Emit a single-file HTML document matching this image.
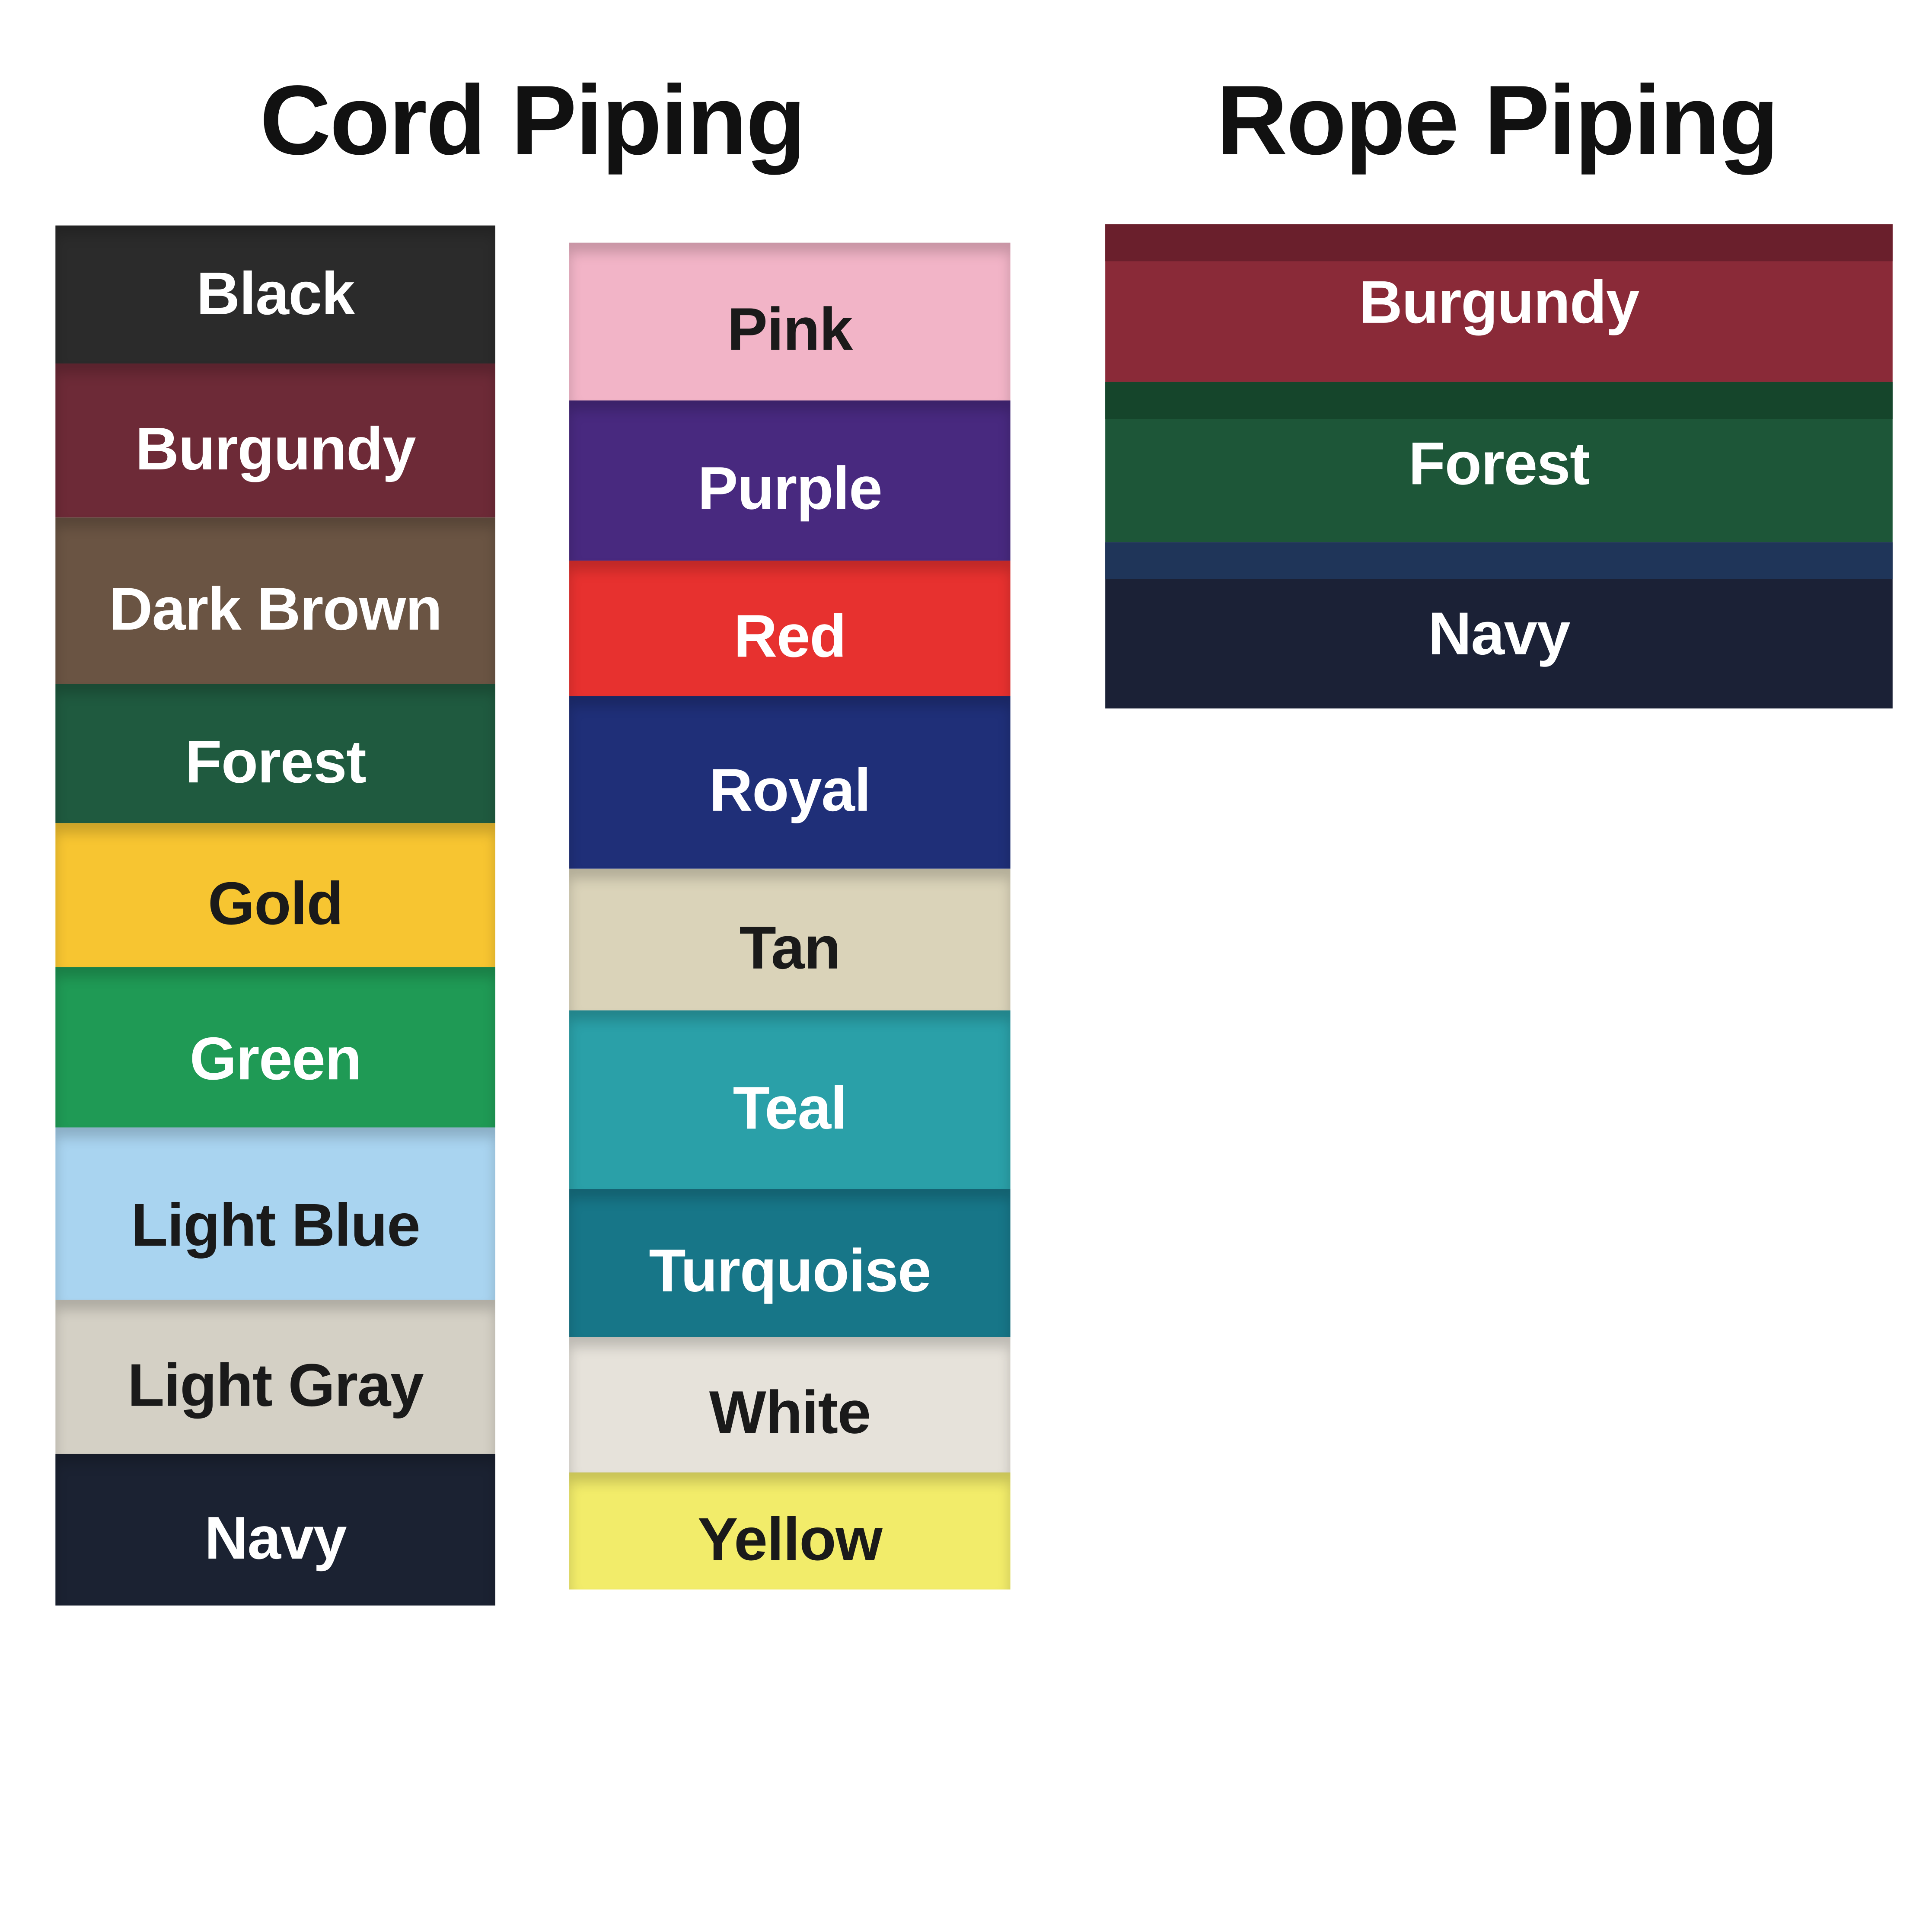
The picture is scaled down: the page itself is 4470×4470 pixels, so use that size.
<!DOCTYPE html>
<html><head><meta charset="utf-8"><style>
html,body{margin:0;padding:0;background:#fff;width:4470px;height:4470px;overflow:hidden}
#w{position:absolute;left:0;top:0;width:1568px;height:1568px;transform:scale(2.8508);transform-origin:0 0;font-family:"Liberation Sans",sans-serif;font-weight:bold}
.t{position:absolute;font-size:80px;color:#111;text-align:center;letter-spacing:-1px}
.b{position:absolute;box-sizing:border-box;padding-top:14px;display:flex;align-items:center;justify-content:center;font-size:49px;color:#fff;box-shadow:inset 0 8px 10px rgba(0,0,0,0.18);letter-spacing:-0.5px}
.d{color:#1a1a1a}
</style></head><body><div id="w">
<div class="t" style="left:132px;top:52px;width:600px">Cord Piping</div>
<div class="t" style="left:915px;top:52px;width:600px">Rope Piping</div>

<div class="b" style="left:45px;top:183px;width:357px;height:112px;background:#2b2b2b;padding-top:0">Black</div>
<div class="b" style="left:45px;top:295px;width:357px;height:125px;background:#6d2a37">Burgundy</div>
<div class="b" style="left:45px;top:420px;width:357px;height:135px;background:#6a5443">Dark Brown</div>
<div class="b" style="left:45px;top:555px;width:357px;height:113px;background:#1f5a3f">Forest</div>
<div class="b d" style="left:45px;top:668px;width:357px;height:117px;background:#f7c531">Gold</div>
<div class="b" style="left:45px;top:785px;width:357px;height:130px;background:#1f9a55;padding-top:20px">Green</div>
<div class="b d" style="left:45px;top:915px;width:357px;height:140px;background:#a9d4f0;padding-top:20px">Light Blue</div>
<div class="b d" style="left:45px;top:1055px;width:357px;height:125px;background:#d4d0c5">Light Gray</div>
<div class="b" style="left:45px;top:1180px;width:357px;height:123px;background:#1b2232">Navy</div>

<div class="b d" style="left:462px;top:197px;width:358px;height:128px;background:#f2b4c7">Pink</div>
<div class="b" style="left:462px;top:325px;width:358px;height:130px;background:#48297f">Purple</div>
<div class="b" style="left:462px;top:455px;width:358px;height:110px;background:#e7312f">Red</div>
<div class="b" style="left:462px;top:565px;width:358px;height:140px;background:#1f2f78">Royal</div>
<div class="b d" style="left:462px;top:705px;width:358px;height:115px;background:#dad3b9">Tan</div>
<div class="b" style="left:462px;top:820px;width:358px;height:145px;background:#2aa0a8">Teal</div>
<div class="b" style="left:462px;top:965px;width:358px;height:120px;background:#177688">Turquoise</div>
<div class="b d" style="left:462px;top:1085px;width:358px;height:110px;background:#e6e2da">White</div>
<div class="b d" style="left:462px;top:1195px;width:358px;height:95px;background:#f2ec6a">Yellow</div>

<div class="b" style="left:897px;top:182px;width:639px;height:128px;background:#8a2a38;box-shadow:inset 0 30px 0 #6a1f2c;padding-top:0">Burgundy</div>
<div class="b" style="left:897px;top:310px;width:639px;height:130px;background:#1d5638;box-shadow:inset 0 30px 0 #15452b;padding-top:4px">Forest</div>
<div class="b" style="left:897px;top:440px;width:639px;height:135px;background:#1b2136;box-shadow:inset 0 30px 0 #1f3559;padding-top:14px">Navy</div>
</div></body></html>
